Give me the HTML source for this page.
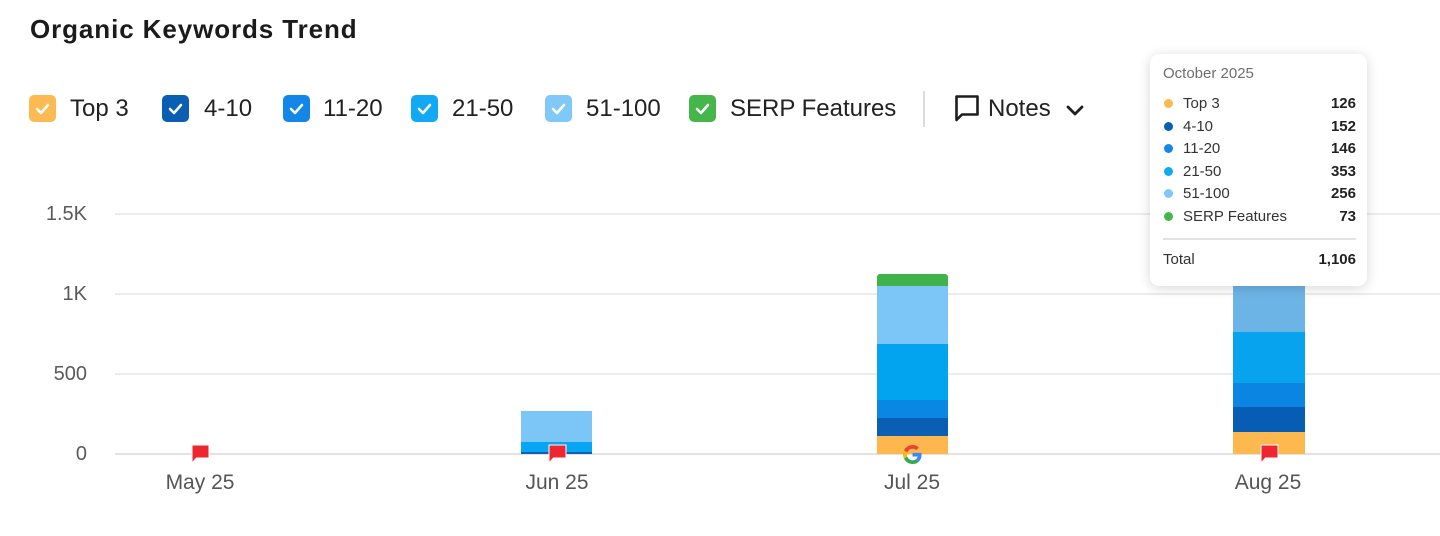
<!DOCTYPE html>
<html><head><meta charset="utf-8">
<style>
*{margin:0;padding:0;box-sizing:border-box}
html,body{width:1440px;height:536px;background:#fff;overflow:hidden;font-family:"Liberation Sans",Arial,sans-serif;color:#222}
.a{position:absolute}
.title{left:30px;top:9px;height:40px;line-height:40px;font-size:26px;font-weight:bold;letter-spacing:0.9px;color:#1b1b1b;white-space:nowrap}
.cb{position:absolute;top:95px;width:27px;height:27px;border-radius:5px}
.cb svg{position:absolute;left:0;top:0}
.lt{position:absolute;top:89px;height:40px;line-height:40px;font-size:24px;color:#222;white-space:nowrap}
.grid{position:absolute;left:115px;width:1325px;height:2px;background:#ececec}
.yl{position:absolute;width:80px;left:7px;text-align:right;font-size:20px;color:#5a5a5a;height:30px;line-height:30px}
.xl{position:absolute;width:120px;text-align:center;font-size:21px;color:#555;height:30px;line-height:30px;top:468px}
.seg{position:absolute}
.tip{position:absolute;left:1150px;top:54px;width:217px;height:232px;background:#fff;border-radius:9px;box-shadow:0 2px 12px rgba(0,0,0,0.16)}
.tr{position:absolute;left:0;width:217px;height:20px;line-height:20px;font-size:15px;color:#333}
.tr .d{position:absolute;left:14px;top:5px;width:9px;height:9px;border-radius:50%}
.tr .n{position:absolute;left:33px}
.tr .v{position:absolute;right:11px;font-weight:bold;color:#222}
</style></head><body>

<div class="a title">Organic Keywords Trend</div>

<!-- legend -->
<div class="cb" style="left:29px;background:#fdba52"><svg width="27" height="27"><polyline points="8,14 12,18 19,10" fill="none" stroke="#fff" stroke-width="2.5" stroke-linecap="round" stroke-linejoin="round"/></svg></div>
<div class="lt" style="left:70px">Top 3</div>
<div class="cb" style="left:162px;background:#0b5fb3"><svg width="27" height="27"><polyline points="8,14 12,18 19,10" fill="none" stroke="#fff" stroke-width="2.5" stroke-linecap="round" stroke-linejoin="round"/></svg></div>
<div class="lt" style="left:204px">4-10</div>
<div class="cb" style="left:283px;background:#1387e8"><svg width="27" height="27"><polyline points="8,14 12,18 19,10" fill="none" stroke="#fff" stroke-width="2.5" stroke-linecap="round" stroke-linejoin="round"/></svg></div>
<div class="lt" style="left:323px">11-20</div>
<div class="cb" style="left:411px;background:#12a9f4"><svg width="27" height="27"><polyline points="8,14 12,18 19,10" fill="none" stroke="#fff" stroke-width="2.5" stroke-linecap="round" stroke-linejoin="round"/></svg></div>
<div class="lt" style="left:452px">21-50</div>
<div class="cb" style="left:545px;background:#80c8f8"><svg width="27" height="27"><polyline points="8,14 12,18 19,10" fill="none" stroke="#fff" stroke-width="2.5" stroke-linecap="round" stroke-linejoin="round"/></svg></div>
<div class="lt" style="left:586px">51-100</div>
<div class="cb" style="left:689px;background:#45b649"><svg width="27" height="27"><polyline points="8,14 12,18 19,10" fill="none" stroke="#fff" stroke-width="2.5" stroke-linecap="round" stroke-linejoin="round"/></svg></div>
<div class="lt" style="left:730px">SERP Features</div>

<div class="a" style="left:923px;top:91px;width:2px;height:36px;background:#dcdcdc"></div>
<svg class="a" style="left:952px;top:93px" width="30" height="32"><path d="M4.5 3.5 H25.5 V21.5 H10 L4.5 27 Z" fill="none" stroke="#1e1e1e" stroke-width="2.6" stroke-linejoin="round"/></svg>
<div class="lt" style="left:988px">Notes</div>
<svg class="a" style="left:1064px;top:102px" width="22" height="16"><polyline points="4,5 11,12 18,5" fill="none" stroke="#1e1e1e" stroke-width="2.8" stroke-linecap="round" stroke-linejoin="round"/></svg>

<!-- grid -->
<div class="grid" style="top:213px"></div>
<div class="grid" style="top:293px"></div>
<div class="grid" style="top:373px"></div>
<div class="grid" style="top:453px;background:#e2e2e2"></div>

<div class="yl" style="top:199px">1.5K</div>
<div class="yl" style="top:279px">1K</div>
<div class="yl" style="top:359px">500</div>
<div class="yl" style="top:439px">0</div>

<!-- Jun bar -->
<div class="seg" style="left:521px;width:71px;top:411px;height:31px;background:#7cc6f7"></div>
<div class="seg" style="left:521px;width:71px;top:442px;height:10px;background:#07a6f2"></div>
<div class="seg" style="left:521px;width:71px;top:452px;height:2px;background:#0b5fb3"></div>

<!-- Jul bar -->
<div class="seg" style="left:877px;width:71px;top:274px;height:12px;background:#3fb34a;border-radius:3px 3px 0 0"></div>
<div class="seg" style="left:877px;width:71px;top:286px;height:58px;background:#7cc6f7"></div>
<div class="seg" style="left:877px;width:71px;top:344px;height:56px;background:#02a4f0"></div>
<div class="seg" style="left:877px;width:71px;top:400px;height:18px;background:#0a86e3"></div>
<div class="seg" style="left:877px;width:71px;top:418px;height:18px;background:#0a5fb5"></div>
<div class="seg" style="left:877px;width:71px;top:436px;height:18px;background:#fdb74c"></div>

<!-- Aug bar -->
<div class="seg" style="left:1233px;width:72px;top:268px;height:12px;background:#3fb34a"></div>
<div class="seg" style="left:1233px;width:72px;top:280px;height:52px;background:#6db4e6"></div>
<div class="seg" style="left:1233px;width:72px;top:332px;height:51px;background:#07a3ef"></div>
<div class="seg" style="left:1233px;width:72px;top:383px;height:24px;background:#0a86e2"></div>
<div class="seg" style="left:1233px;width:72px;top:407px;height:25px;background:#065db3"></div>
<div class="seg" style="left:1233px;width:72px;top:432px;height:22px;background:#fdb84e"></div>

<!-- flags -->
<svg class="a" style="left:191px;top:444px" width="19" height="20"><path d="M1 1 H18 V14 H5.5 L1 19 Z" fill="#ef2630" stroke="#fff" stroke-width="1"/></svg>
<svg class="a" style="left:548px;top:444px" width="19" height="20"><path d="M1 1 H18 V14 H5.5 L1 19 Z" fill="#ef2630" stroke="#fff" stroke-width="1"/></svg>
<svg class="a" style="left:1260px;top:444px" width="19" height="20"><path d="M1 1 H18 V14 H5.5 L1 19 Z" fill="#ef2630" stroke="#fff" stroke-width="1"/></svg>

<!-- Google G -->
<svg class="a" style="left:903px;top:445px" width="19" height="19" viewBox="0 0 48 48">
<path fill="#EA4335" d="M24 9.5c3.54 0 6.71 1.22 9.21 3.6l6.85-6.85C35.9 2.38 30.47 0 24 0 14.62 0 6.51 5.38 2.56 13.22l7.98 6.19C12.43 13.72 17.74 9.5 24 9.5z"/>
<path fill="#4285F4" d="M46.98 24.55c0-1.57-.15-3.09-.38-4.55H24v9.02h12.94c-.58 2.96-2.26 5.48-4.78 7.18l7.73 6c4.51-4.18 7.09-10.36 7.09-17.65z"/>
<path fill="#FBBC05" d="M10.53 28.59c-.48-1.45-.76-2.99-.76-4.59s.27-3.14.76-4.59l-7.98-6.19C.92 16.46 0 20.12 0 24c0 3.88.92 7.54 2.56 10.78l7.97-6.19z"/>
<path fill="#34A853" d="M24 48c6.48 0 11.93-2.13 15.89-5.81l-7.73-6c-2.15 1.45-4.92 2.3-8.16 2.3-6.26 0-11.57-4.22-13.47-9.91l-7.98 6.19C6.51 42.62 14.62 48 24 48z"/>
</svg>

<!-- x labels -->
<div class="xl" style="left:140px">May 25</div>
<div class="xl" style="left:497px">Jun 25</div>
<div class="xl" style="left:852px">Jul 25</div>
<div class="xl" style="left:1208px">Aug 25</div>

<!-- tooltip -->
<div class="tip">
  <div class="a" style="left:13px;top:10px;height:20px;line-height:20px;font-size:15px;color:#6e6e6e">October 2025</div>
  <div class="tr" style="top:40px"><span class="d" style="background:#fdb94f"></span><span class="n">Top 3</span><span class="v">126</span></div>
  <div class="tr" style="top:63px"><span class="d" style="background:#0b5fb3"></span><span class="n">4-10</span><span class="v">152</span></div>
  <div class="tr" style="top:85px"><span class="d" style="background:#1387e8"></span><span class="n">11-20</span><span class="v">146</span></div>
  <div class="tr" style="top:108px"><span class="d" style="background:#12a9f4"></span><span class="n">21-50</span><span class="v">353</span></div>
  <div class="tr" style="top:130px"><span class="d" style="background:#80c8f8"></span><span class="n">51-100</span><span class="v">256</span></div>
  <div class="tr" style="top:153px"><span class="d" style="background:#45b649"></span><span class="n">SERP Features</span><span class="v">73</span></div>
  <div class="a" style="left:13px;top:184px;width:193px;height:2px;background:#e3e3e3"></div>
  <div class="tr" style="top:196px"><span class="a" style="left:13px">Total</span><span class="v">1,106</span></div>
</div>

</body></html>
